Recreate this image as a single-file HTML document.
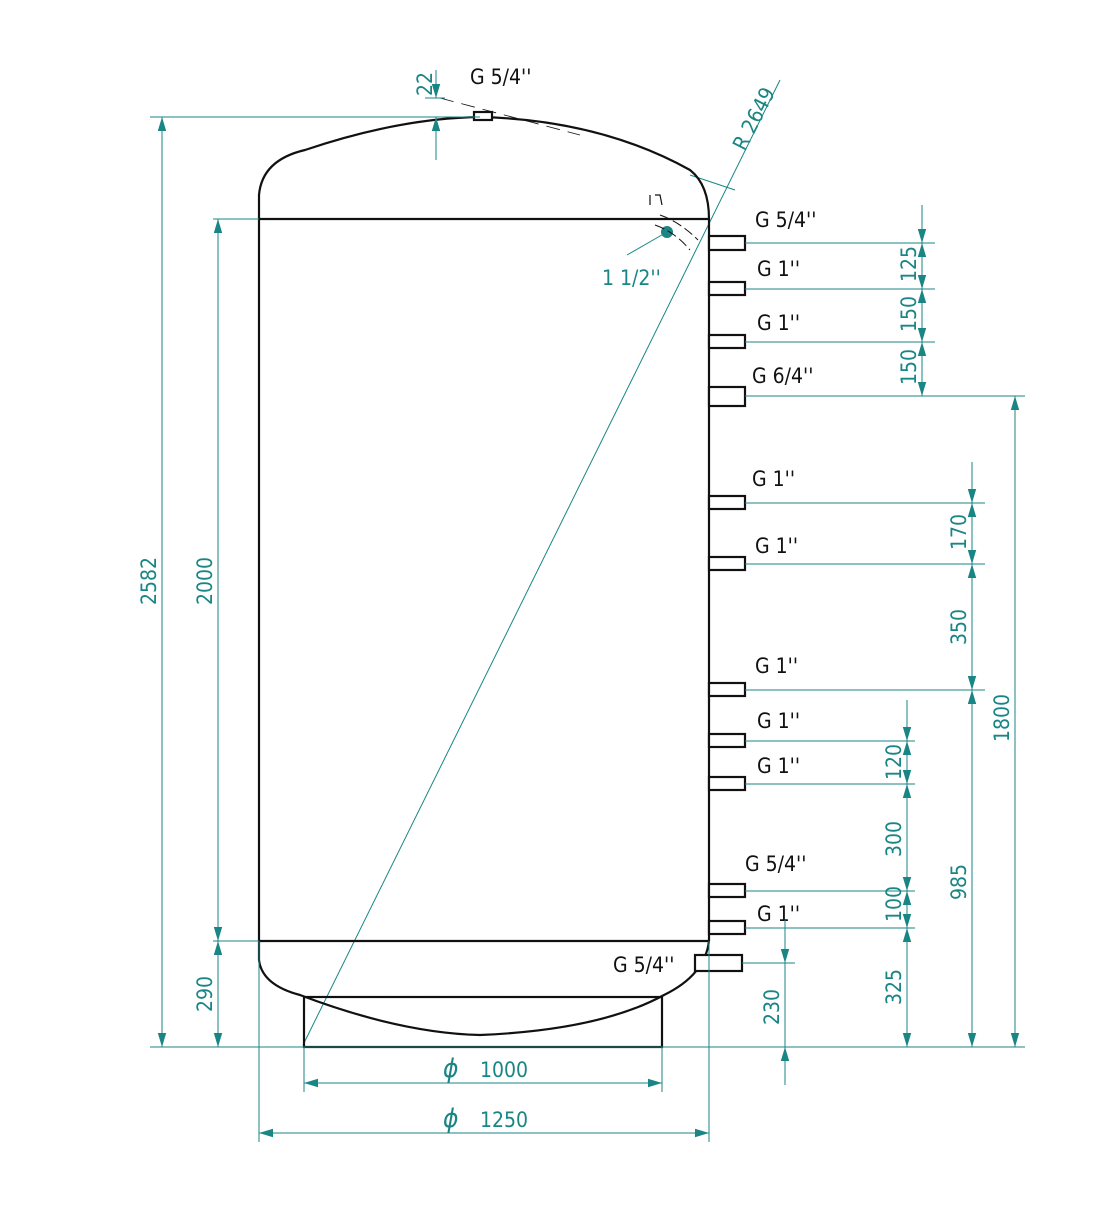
<!DOCTYPE html>
<html><head><meta charset="utf-8"><style>
html,body{margin:0;padding:0;background:#fff}
svg{display:block}
text{font-family:"DejaVu Sans Condensed","Liberation Sans Narrow","Liberation Sans",sans-serif;}
.k{fill:#111;font-size:21px}
.t{fill:#1a8585;font-size:21px}
.d{stroke:#1a8585;stroke-width:1;fill:none}
.o{stroke:#111;stroke-width:2.2;fill:none}
.n{stroke:#111;stroke-width:2.2;fill:#fff}
</style></head><body>
<svg width="1093" height="1215" viewBox="0 0 1093 1215" xmlns="http://www.w3.org/2000/svg">
<defs>
<marker id="a" viewBox="0 0 10 10" refX="10" refY="5" markerWidth="14" markerHeight="14" markerUnits="userSpaceOnUse" orient="auto-start-reverse"><path d="M0,2 L10,5 L0,8 z" fill="#1a8585"/></marker>
</defs>
<line class="d" x1="303" y1="1045" x2="780" y2="80"/>
<line x1="440" y1="98" x2="580" y2="135" stroke="#111" stroke-width="0.8" stroke-dasharray="14,8"/>
<line class="d" x1="690" y1="175" x2="735" y2="190"/>
<text class="t" transform="translate(745,152) rotate(-63)">R 2649</text>
<path class="o" d="M259,219 L259,195 Q262,160 305,150 Q400,118 480,117 Q600,120 690,170 Q709,185 709,219"/>
<path class="o" d="M259,219 L709,219 M259,941 L709,941 M259,219 L259,941 M709,219 L709,941"/>
<path class="o" d="M259,941 L259,960 Q262,985 300,995 Q400,1033 480,1035 Q600,1030 664,995 Q705,975 709,941"/>
<rect x="304" y="997" width="358" height="50" class="o" fill="none"/>
<line x1="304" y1="997" x2="662" y2="997" stroke="#111" stroke-width="1.5" stroke-dasharray="14,8"/>
<rect x="474" y="112" width="18" height="8" class="n"/>
<g>
<rect x="709" y="236" width="36" height="14" class="n"/>
<rect x="709" y="282" width="36" height="13" class="n"/>
<rect x="709" y="335" width="36" height="13" class="n"/>
<rect x="709" y="387" width="36" height="19" class="n"/>
<rect x="709" y="496" width="36" height="13" class="n"/>
<rect x="709" y="557" width="36" height="13" class="n"/>
<rect x="709" y="683" width="36" height="13" class="n"/>
<rect x="709" y="734" width="36" height="13" class="n"/>
<rect x="709" y="777" width="36" height="13" class="n"/>
<rect x="709" y="884" width="36" height="13" class="n"/>
<rect x="709" y="921" width="36" height="13" class="n"/>
<rect x="695" y="955" width="47" height="16" class="n"/>
</g>
<circle cx="667" cy="232" r="6" fill="#1a8585"/>
<path d="M655,225 Q675,232 690,250 M660,215 Q680,222 698,240" stroke="#111" stroke-width="1" fill="none" stroke-dasharray="10,4"/>
<path d="M650,195 L650,205 M655,195 L660,195 L662,205" stroke="#111" stroke-width="1.2" fill="none"/>
<line class="d" x1="627" y1="255" x2="667" y2="232"/>
<text class="t" x="602" y="285">1 1/2''</text>
<text class="k" x="470" y="84">G 5/4''</text>
<text class="k" x="755" y="227">G 5/4''</text>
<text class="k" x="757" y="276">G 1''</text>
<text class="k" x="757" y="330">G 1''</text>
<text class="k" x="752" y="383">G 6/4''</text>
<text class="k" x="752" y="486">G 1''</text>
<text class="k" x="755" y="553">G 1''</text>
<text class="k" x="755" y="673">G 1''</text>
<text class="k" x="757" y="728">G 1''</text>
<text class="k" x="757" y="773">G 1''</text>
<text class="k" x="745" y="871">G 5/4''</text>
<text class="k" x="757" y="921">G 1''</text>
<text class="k" x="613" y="972">G 5/4''</text>
<g class="d">
<line x1="150" y1="1047" x2="1025" y2="1047"/>
<line x1="150" y1="117" x2="480" y2="117"/>
<line x1="213" y1="219" x2="259" y2="219"/>
<line x1="213" y1="941" x2="259" y2="941"/>
<line x1="425" y1="98" x2="445" y2="98"/>
<line x1="745" y1="243" x2="935" y2="243"/>
<line x1="745" y1="289" x2="935" y2="289"/>
<line x1="745" y1="342" x2="935" y2="342"/>
<line x1="745" y1="396" x2="1025" y2="396"/>
<line x1="745" y1="503" x2="985" y2="503"/>
<line x1="745" y1="564" x2="985" y2="564"/>
<line x1="745" y1="690" x2="985" y2="690"/>
<line x1="745" y1="741" x2="915" y2="741"/>
<line x1="745" y1="784" x2="915" y2="784"/>
<line x1="745" y1="891" x2="915" y2="891"/>
<line x1="745" y1="928" x2="915" y2="928"/>
<line x1="742" y1="963" x2="795" y2="963"/>
<line x1="304" y1="1047" x2="304" y2="1092"/>
<line x1="662" y1="1047" x2="662" y2="1092"/>
<line x1="259" y1="941" x2="259" y2="1142"/>
<line x1="709" y1="941" x2="709" y2="1142"/>
</g>
<g class="d">
<line x1="162" y1="117" x2="162" y2="1047" marker-start="url(#a)" marker-end="url(#a)"/>
<line x1="218" y1="219" x2="218" y2="941" marker-start="url(#a)" marker-end="url(#a)"/>
<line x1="218" y1="941" x2="218" y2="1047" marker-start="url(#a)" marker-end="url(#a)"/>
<line x1="436" y1="98" x2="436" y2="70"/>
<line x1="436" y1="160" x2="436" y2="117"/>
<line x1="436" y1="80" x2="436" y2="98" marker-end="url(#a)"/>
<line x1="436" y1="140" x2="436" y2="117" marker-end="url(#a)"/>
<line x1="922" y1="205" x2="922" y2="243" marker-end="url(#a)"/>
<line x1="922" y1="243" x2="922" y2="289" marker-start="url(#a)" marker-end="url(#a)"/>
<line x1="922" y1="289" x2="922" y2="342" marker-start="url(#a)" marker-end="url(#a)"/>
<line x1="922" y1="342" x2="922" y2="396" marker-start="url(#a)" marker-end="url(#a)"/>
<line x1="972" y1="462" x2="972" y2="503" marker-end="url(#a)"/>
<line x1="972" y1="503" x2="972" y2="564" marker-start="url(#a)" marker-end="url(#a)"/>
<line x1="972" y1="564" x2="972" y2="690" marker-start="url(#a)" marker-end="url(#a)"/>
<line x1="972" y1="690" x2="972" y2="1047" marker-start="url(#a)" marker-end="url(#a)"/>
<line x1="1015" y1="396" x2="1015" y2="1047" marker-start="url(#a)" marker-end="url(#a)"/>
<line x1="907" y1="700" x2="907" y2="741" marker-end="url(#a)"/>
<line x1="907" y1="741" x2="907" y2="784" marker-start="url(#a)" marker-end="url(#a)"/>
<line x1="907" y1="784" x2="907" y2="891" marker-start="url(#a)" marker-end="url(#a)"/>
<line x1="907" y1="891" x2="907" y2="928" marker-start="url(#a)" marker-end="url(#a)"/>
<line x1="907" y1="928" x2="907" y2="1047" marker-start="url(#a)" marker-end="url(#a)"/>
<line x1="785" y1="920" x2="785" y2="963" marker-end="url(#a)"/>
<line x1="785" y1="1085" x2="785" y2="1047" marker-end="url(#a)"/>
<line x1="785" y1="963" x2="785" y2="1047"/>
<line x1="304" y1="1083" x2="662" y2="1083" marker-start="url(#a)" marker-end="url(#a)"/>
<line x1="259" y1="1133" x2="709" y2="1133" marker-start="url(#a)" marker-end="url(#a)"/>
</g>
<g class="t">
<text transform="translate(156,605) rotate(-90)">2582</text>
<text transform="translate(212,605) rotate(-90)">2000</text>
<text transform="translate(212,1012) rotate(-90)">290</text>
<text transform="translate(432,96) rotate(-90)">22</text>
<text transform="translate(916,282) rotate(-90)">125</text>
<text transform="translate(916,332) rotate(-90)">150</text>
<text transform="translate(916,385) rotate(-90)">150</text>
<text transform="translate(966,550) rotate(-90)">170</text>
<text transform="translate(966,645) rotate(-90)">350</text>
<text transform="translate(966,900) rotate(-90)">985</text>
<text transform="translate(1009,742) rotate(-90)">1800</text>
<text transform="translate(901,780) rotate(-90)">120</text>
<text transform="translate(901,857) rotate(-90)">300</text>
<text transform="translate(901,922) rotate(-90)">100</text>
<text transform="translate(901,1005) rotate(-90)">325</text>
<text transform="translate(779,1025) rotate(-90)">230</text>
<text x="443" y="1077" font-size="26" font-style="italic">ϕ</text>
<text x="480" y="1077">1000</text>
<text x="443" y="1127" font-size="26" font-style="italic">ϕ</text>
<text x="480" y="1127">1250</text>
</g>
</svg>
</body></html>
